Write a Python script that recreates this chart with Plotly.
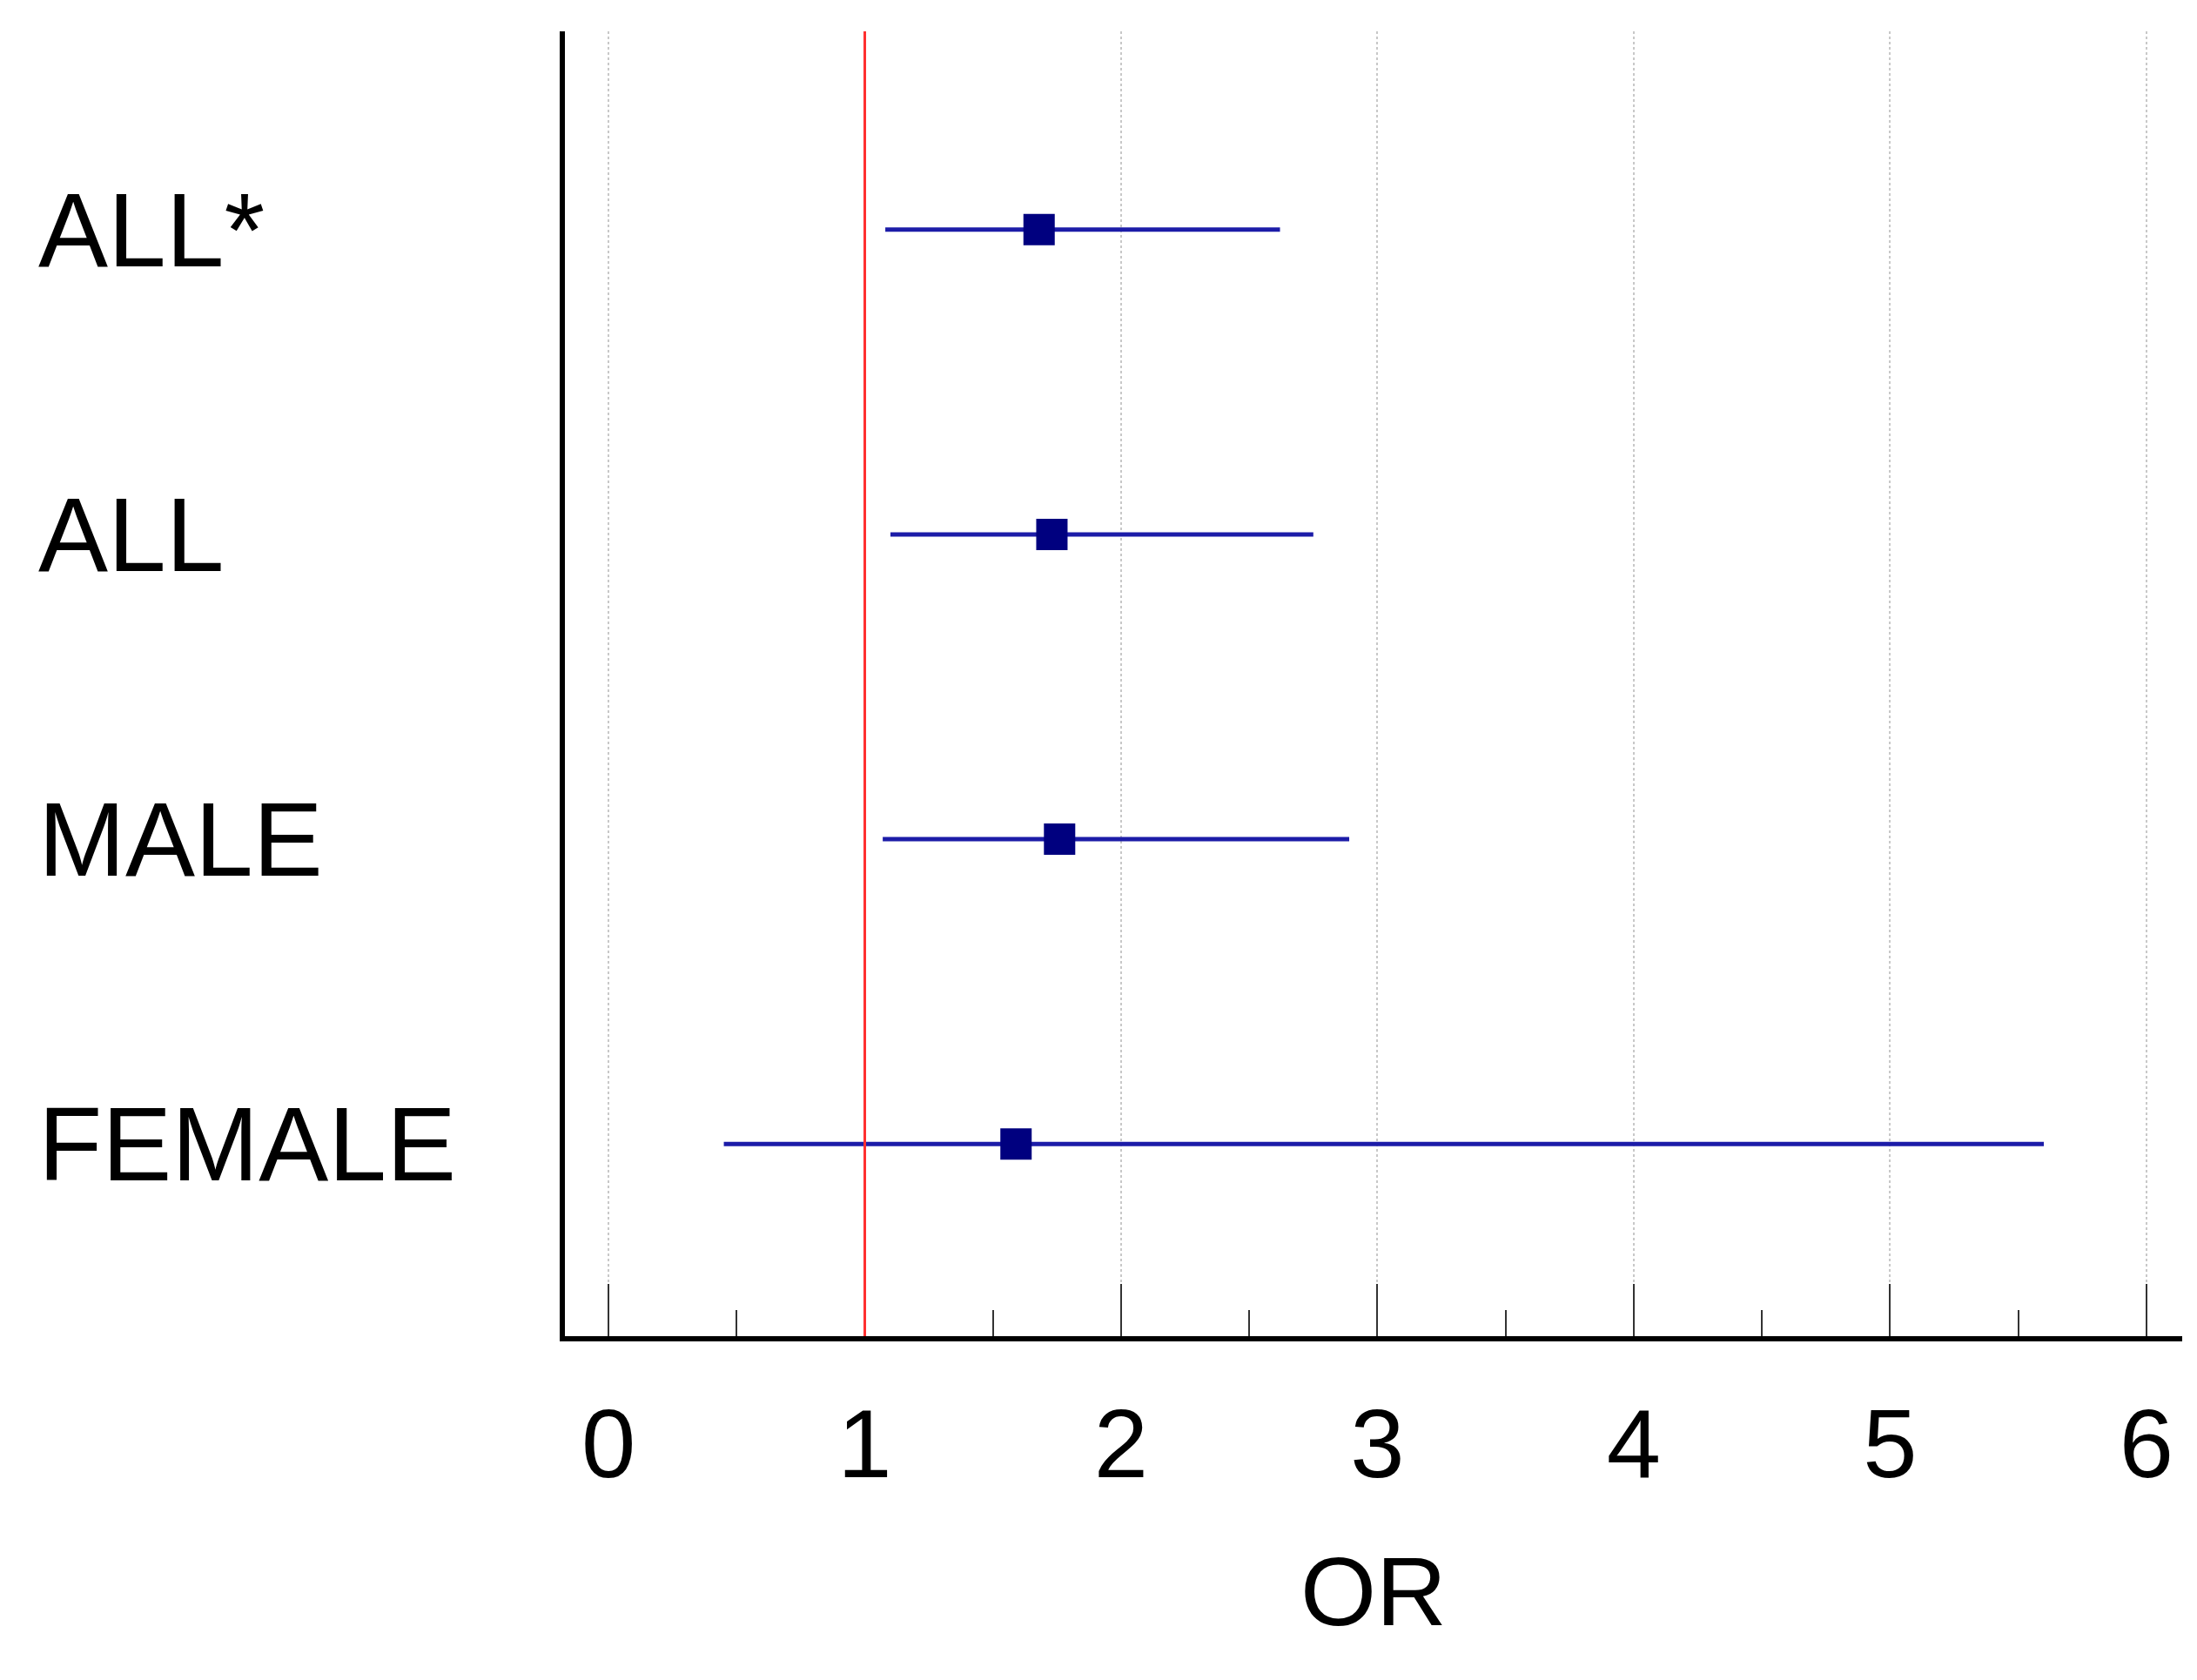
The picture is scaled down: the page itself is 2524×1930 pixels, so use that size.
import plotly.graph_objects as go

groups = ["ALL*", "ALL", "MALE", "FEMALE"]
ypos = [4, 3, 2, 1]
or_val = [1.68, 1.73, 1.76, 1.59]
ci_lo = [1.08, 1.10, 1.07, 0.45]
ci_hi = [2.62, 2.75, 2.89, 5.60]
x_ticks = [0, 1, 2, 3, 4, 5, 6]

W, H = 2524, 1930
L, R, T, B = 641, 25, 28, 403
pw = W - L - R

fig = go.Figure()
fig.add_trace(go.Scatter(
    x=or_val, y=ypos, mode="markers",
    marker=dict(symbol="square", size=36, color="#00007f"),
    error_x=dict(type="data", symmetric=False,
                 array=[h - v for h, v in zip(ci_hi, or_val)],
                 arrayminus=[v - l for v, l in zip(or_val, ci_lo)],
                 color="#1c1ca8", thickness=5, width=0),
    showlegend=False))

fig.add_shape(type="line", x0=1, x1=1, y0=0, y1=1, xref="x", yref="paper",
              line=dict(color="#ff3030", width=3))

for g, y in zip(groups, ypos):
    fig.add_annotation(text=g, x=(34 - L) / pw, xref="paper", y=y, yref="y",
                       xanchor="left", yanchor="middle", showarrow=False,
                       font=dict(size=120, color="black", family="Liberation Sans"))

fig.update_layout(
    width=W, height=H, margin=dict(l=L, r=R, t=T, b=B),
    plot_bgcolor="white", paper_bgcolor="white",
    font=dict(family="Liberation Sans", color="black"),
    xaxis=dict(range=[-0.17, 6.14], tickvals=x_ticks, showgrid=True,
               gridcolor="#c8c8c8", griddash="dot", gridwidth=2,
               zeroline=False, showline=True, linecolor="black", linewidth=6,
               ticks="inside", ticklen=60, tickwidth=2, tickcolor="#333",
               minor=dict(dtick=0.5, ticks="inside", ticklen=30, tickwidth=2, tickcolor="#333", showgrid=False),
               tickfont=dict(size=112), ticklabelstandoff=22,
               title=dict(text="OR", font=dict(size=112), standoff=70)),
    yaxis=dict(range=[0.37, 4.65], showticklabels=False, showgrid=False,
               zeroline=False, showline=True, linecolor="black", linewidth=6,
               ticks=""),
)
fig.write_html("out.html")
